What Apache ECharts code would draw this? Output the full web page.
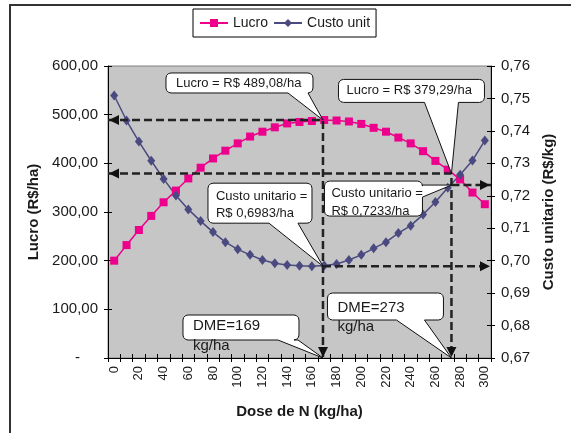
<!DOCTYPE html>
<html>
<head>
<meta charset="utf-8">
<script src="https://cdn.jsdelivr.net/npm/echarts@6/dist/echarts.min.js"></script>
<style>
  html, body { margin: 0; padding: 0; background: #fff; }
  #chart { width: 571px; height: 433px; }
</style>
</head>
<body>
<div id="chart"></div>
<script>
// Nitrogen dose (kg/ha)
const doses = [0, 10, 20, 30, 40, 50, 60, 70, 80, 90, 100, 110, 120, 130, 140, 150,
               160, 170, 180, 190, 200, 210, 220, 230, 240, 250, 260, 270, 280, 290, 300];
// Profit (R$/ha)
const lucro = [200, 232, 263, 292, 320, 344, 369, 391, 410, 426, 441, 455, 465, 474, 482, 485,
               487, 489, 488, 486, 481, 473, 465, 453, 441, 425, 405, 387, 367, 340, 316];
// Unit cost (R$/kg)
const custo = [0.7509, 0.7432, 0.7367, 0.7308, 0.7252, 0.7201, 0.7158, 0.7122, 0.7088, 0.7057,
               0.7035, 0.7018, 0.7002, 0.6992, 0.6987, 0.6984, 0.6983, 0.6985, 0.6990, 0.7002,
               0.7018, 0.7038, 0.7057, 0.7085, 0.7108, 0.7142, 0.7181, 0.7225, 0.7265, 0.7309, 0.7370];

// Economic optimum doses and the values they give
const dmeLucro = 169, lucroMax = 489.08, custoMin = 0.6983;
const dmeCusto = 273, lucroAt = 379.29, custoAt = 0.7233;

const FONT = '"Liberation Sans", Arial, sans-serif';
const INK = '#1a1a1a';
const PINK = '#ec008c';
const SLATE = '#4a4a80';

const chart = echarts.init(document.getElementById('chart'), null, { renderer: 'canvas' });

const guide = { type: [8, 4], width: 2.5, color: '#222' };
const guideSeries = (name, yIdx, pts) => ({
  name, type: 'line', xAxisIndex: 1, yAxisIndex: yIdx, data: pts,
  symbol: 'none', lineStyle: guide, silent: true, z: 5, animation: false
});

const tickOnly = (extra) => Object.assign({
  axisLine: { show: false, onZero: false }, axisLabel: { show: false }, splitLine: { show: false },
  axisTick: { show: true, inside: true, length: 4, lineStyle: { color: '#000', width: 1 } }
}, extra);

chart.setOption({
  animation: false,
  backgroundColor: '#fff',
  textStyle: { fontFamily: FONT },
  legend: {
    data: ['Lucro', 'Custo unit'],
    left: 193, top: 9,
    padding: [7, 6, 7, 6],
    itemGap: 5, itemWidth: 28, itemHeight: 10,
    borderColor: '#000', borderWidth: 1, borderRadius: 0,
    textStyle: { fontSize: 14, color: INK, fontFamily: FONT }
  },
  grid: {
    left: 108, right: 80, top: 66, bottom: 75,
    show: true, backgroundColor: '#c6c6c6', borderColor: '#808080', borderWidth: 1
  },
  xAxis: [
    {
      type: 'category', data: doses.map(String), position: 'bottom', boundaryGap: true,
      name: 'Dose de N (kg/ha)', nameLocation: 'middle', nameGap: 46,
      nameTextStyle: { fontSize: 15, fontWeight: 'bold', color: INK, fontFamily: FONT },
      axisLine: { onZero: false, lineStyle: { color: '#000', width: 1 } },
      axisTick: { show: true, interval: 0, length: 4, lineStyle: { color: '#000' } },
      axisLabel: { interval: 1, rotate: 90, fontSize: 13, color: INK, margin: 8, fontFamily: FONT },
      splitLine: { show: false }
    },
    { type: 'value', min: -5, max: 305, show: false, axisLine: { onZero: false } },
    tickOnly({ type: 'category', data: doses.map(String), position: 'bottom', boundaryGap: true,
      axisTick: { show: true, inside: true, interval: 0, length: 4, lineStyle: { color: '#000' } } })
  ],
  yAxis: [
    {
      type: 'value', position: 'left', min: 0, max: 600, interval: 100,
      name: 'Lucro (R$/ha)', nameLocation: 'middle', nameGap: 66,
      nameTextStyle: { fontSize: 15, fontWeight: 'bold', color: INK, fontFamily: FONT },
      axisLine: { show: true, onZero: false, lineStyle: { color: '#000', width: 1 } },
      axisTick: { show: true, length: 4, lineStyle: { color: '#000' } },
      axisLabel: {
        fontSize: 15, color: INK, margin: 10, fontFamily: FONT,
        formatter: v => v === 0 ? '{d|-}' : v.toFixed(2).replace('.', ','),
        rich: { d: { fontSize: 15, color: INK, padding: [0, 18, 0, 0] } }
      },
      splitLine: { show: false }
    },
    {
      type: 'value', position: 'right', min: 0.67, max: 0.76, interval: 0.01,
      name: 'Custo unitario (R$/kg)', nameLocation: 'middle', nameGap: 48, nameRotate: 90,
      nameTextStyle: { fontSize: 15, fontWeight: 'bold', color: INK, fontFamily: FONT },
      axisLine: { show: true, onZero: false, lineStyle: { color: '#000', width: 1 } },
      axisTick: { show: true, length: 4, lineStyle: { color: '#000' } },
      axisLabel: { fontSize: 15, color: INK, margin: 10, fontFamily: FONT,
        formatter: v => v.toFixed(2).replace('.', ',') },
      splitLine: { show: false }
    },
    tickOnly({ type: 'value', position: 'left', min: 0, max: 600, interval: 100 }),
    tickOnly({ type: 'value', position: 'right', min: 0.67, max: 0.76, interval: 0.01 })
  ],
  series: [
    guideSeries('g1', 0, [[-5, lucroMax], [dmeLucro, lucroMax], [dmeLucro, 0]]),
    guideSeries('g2', 0, [[-5, lucroAt], [dmeCusto, lucroAt], [dmeCusto, 0]]),
    guideSeries('g3', 1, [[dmeLucro, custoMin], [305, custoMin]]),
    guideSeries('g4', 1, [[dmeCusto, custoAt], [305, custoAt]]),
    {
      name: 'Lucro', type: 'line', xAxisIndex: 0, yAxisIndex: 0, data: lucro,
      symbol: 'rect', symbolSize: 8, showAllSymbol: true, z: 3,
      lineStyle: { color: PINK, width: 1.5 }, itemStyle: { color: PINK }
    },
    {
      name: 'Custo unit', type: 'line', xAxisIndex: 0, yAxisIndex: 1, data: custo,
      symbol: 'diamond', symbolSize: [8, 10], showAllSymbol: true, z: 3,
      lineStyle: { color: SLATE, width: 1.5 }, itemStyle: { color: SLATE }
    }
  ]
});

// ---- arrowheads and callout balloons, anchored to the data points ----
const px = (yIdx, x, y) => chart.convertToPixel({ xAxisIndex: 1, yAxisIndex: yIdx }, [x, y]);

function arrow(tip, dir, len = 10, half = 5) {
  const [x, y] = tip;
  let pts;
  if (dir === 'left') pts = [[x, y], [x + len, y - half], [x + len, y + half]];
  else if (dir === 'right') pts = [[x, y], [x - len, y - half], [x - len, y + half]];
  else pts = [[x, y], [x - half, y - len], [x + half, y - len]];
  return { type: 'polygon', shape: { points: pts }, style: { fill: '#111' }, z: 50, silent: true };
}

function balloon(box, tail) {
  const [x0, y0, x1, y1] = box;
  const r = 5, pts = [];
  const arc = (cx, cy, a0) => {
    for (let k = 0; k <= 3; k++) {
      const a = a0 + k * Math.PI / 6;
      pts.push([cx + r * Math.cos(a), cy + r * Math.sin(a)]);
    }
  };
  arc(x0 + r, y0 + r, Math.PI);
  arc(x1 - r, y0 + r, 1.5 * Math.PI);
  if (tail.side === 'right') pts.push([x1, tail.a], tail.tip, [x1, tail.b]);
  arc(x1 - r, y1 - r, 0);
  if (tail.side === 'bottom') pts.push([tail.b, y1], tail.tip, [tail.a, y1]);
  arc(x0 + r, y1 - r, 0.5 * Math.PI);
  return { type: 'polygon', shape: { points: pts },
    style: { fill: '#fff', stroke: '#111', lineWidth: 1 }, z: 60, silent: true };
}

function label(text, x, y, size) {
  return { type: 'text', z: 70, silent: true,
    style: { text, x, y, fill: INK, font: size + 'px ' + FONT, textVerticalAlign: 'middle' } };
}

function callout(anchor, rel, tail, lines, size) {
  const [ax, ay] = anchor;
  const box = [ax + rel[0], ay + rel[1], ax + rel[2], ay + rel[3]];
  const t = tail.side === 'bottom'
    ? { side: 'bottom', a: ax + tail.a, b: ax + tail.b, tip: [ax, ay] }
    : { side: 'right', a: box[1] + tail.a, b: box[1] + tail.b, tip: [ax, ay] };
  const els = [balloon(box, t)];
  lines.forEach(([txt, dx, dy]) => els.push(label(txt, box[0] + dx, box[1] + dy, size)));
  return els;
}

const pLucroMax = px(0, dmeLucro, lucroMax);
const pLucroAt = px(0, dmeCusto, lucroAt);
const pCustoMin = px(1, dmeLucro, custoMin);
const pCustoAt = px(1, dmeCusto, custoAt);
const pDme1 = px(0, dmeLucro, 0);
const pDme2 = px(0, dmeCusto, 0);
const leftEdge = px(0, -5, 0)[0];
const rightEdge = px(0, 305, 0)[0];

const fmt2 = v => v.toFixed(2).replace('.', ',');
const fmt4 = v => v.toFixed(4).replace('.', ',');

const graphics = [
  { type: 'rect', shape: { x: 10, y: 5, width: 600, height: 500 },
    style: { fill: 'none', stroke: '#333', lineWidth: 2 }, z: 0, silent: true },
  arrow([leftEdge + 1, pLucroMax[1]], 'left'),
  arrow([leftEdge + 1, pLucroAt[1]], 'left'),
  arrow([rightEdge - 1, pCustoMin[1]], 'right'),
  arrow([rightEdge - 1, pCustoAt[1]], 'right'),
  arrow([pDme1[0], pDme1[1] - 1], 'down'),
  arrow([pDme2[0], pDme2[1] - 1], 'down'),
  ...callout(pLucroMax, [-157, -47, -10, -27], { side: 'bottom', a: -35, b: -15 },
    [['Lucro = R$ ' + fmt2(lucroMax) + '/ha', 10, 10]], 13),
  ...callout(pLucroAt, [-113, -94, 33, -71], { side: 'bottom', a: -27, b: 7 },
    [['Lucro = R$ ' + fmt2(lucroAt) + '/ha', 8, 11.5]], 13),
  ...callout(pCustoMin, [-115, -83, -11, -43], { side: 'bottom', a: -54, b: -25 },
    [['Custo unitario =', 8, 13], ['R$ ' + fmt4(custoMin) + '/ha', 8, 30]], 13),
  ...callout(pCustoAt, [-127, -4, -29, 31], { side: 'right', a: 4, b: 16 },
    [['Custo unitario =', 7, 12], ['R$ ' + fmt4(custoAt) + '/ha', 7, 30]], 13),
  ...callout(pDme1, [-140, -43, -24, -18], { side: 'bottom', a: -45, b: -25 },
    [['DME=' + dmeLucro, 10, 11], ['kg/ha', 10, 31]], 15),
  ...callout(pDme2, [-124, -65, -8, -38], { side: 'bottom', a: -55, b: -27 },
    [['DME=' + dmeCusto, 10, 14.5], ['kg/ha', 10, 34]], 15)
];

chart.setOption({ graphic: graphics });
</script>
</body>
</html>
